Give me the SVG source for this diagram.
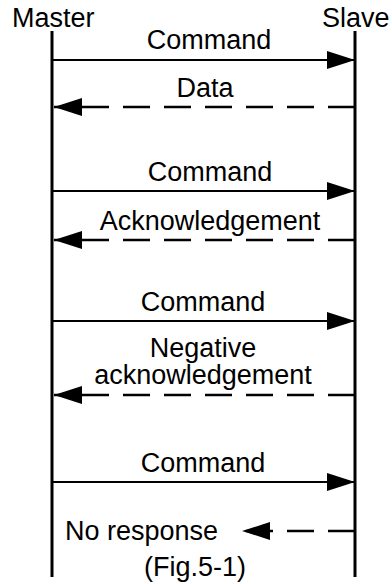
<svg xmlns="http://www.w3.org/2000/svg" width="392" height="584" viewBox="0 0 392 584">
<style>
text{font-family:"Liberation Sans",Arial,sans-serif;font-size:27px;fill:#000}
.c{text-anchor:middle}
.life{stroke:#000;stroke-width:3;fill:none}
.sol{stroke:#000;stroke-width:2.2;fill:none;marker-end:url(#ah)}
.dash{stroke:#000;stroke-width:2.5;fill:none;stroke-dasharray:27 14;marker-end:url(#ah)}
</style>
<defs>
<marker id="ah" markerUnits="userSpaceOnUse" markerWidth="28" markerHeight="18" refX="28" refY="9" orient="auto" viewBox="0 0 28 18">
<path d="M0,0 L28,9 L0,18 Z" fill="#000"/>
</marker>
</defs>
<rect width="392" height="584" fill="#fff"/>
<g id="master">
<text x="12" y="27">Master</text>
<line class="life" x1="52" y1="31" x2="52" y2="577"/>
</g>
<g id="slave">
<text x="322" y="27">Slave</text>
<line class="life" x1="355" y1="31" x2="355" y2="577"/>
</g>
<g id="connectors">
<line class="sol" x1="52" y1="60" x2="355" y2="60"/>
<line class="dash" x1="355" y1="107" x2="54" y2="107"/>
<line class="sol" x1="52" y1="191" x2="355" y2="191"/>
<line class="dash" x1="355" y1="240" x2="54" y2="240"/>
<line class="sol" x1="52" y1="321" x2="355" y2="321"/>
<line class="dash" x1="355" y1="395" x2="54" y2="395"/>
<line class="sol" x1="52" y1="482" x2="355" y2="482"/>
<line class="dash" x1="355" y1="531" x2="242" y2="531"/>
</g>
<g id="labels">
<text class="c" x="209" y="49">Command</text>
<text class="c" x="205" y="97">Data</text>
<text class="c" x="210" y="181">Command</text>
<text class="c" x="210" y="230">Acknowledgement</text>
<text class="c" x="203" y="311">Command</text>
<text class="c" x="203" y="357">Negative</text>
<text class="c" x="203" y="384">acknowledgement</text>
<text class="c" x="203" y="472">Command</text>
<text x="65" y="540">No response</text>
<text class="c" x="195" y="576">(Fig.5-1)</text>
</g>
</svg>
